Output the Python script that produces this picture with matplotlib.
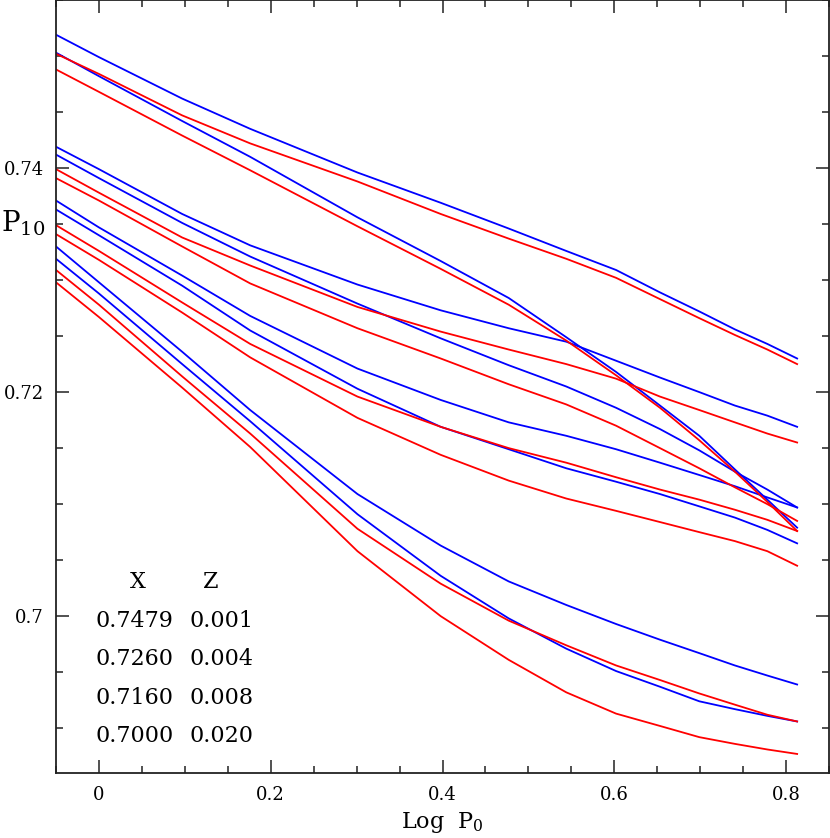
import matplotlib
matplotlib.use("Agg")
import matplotlib.pyplot as plt
from matplotlib.ticker import MultipleLocator, FuncFormatter

plt.rcParams['font.family'] = ['DejaVu Serif']
plt.rcParams['mathtext.fontset'] = 'dejavuserif'

# Log P0 sample points
log_p0 = [-0.05, 0.0, 0.0969, 0.1761, 0.3010, 0.3979, 0.4771, 0.5441,
          0.6021, 0.6532, 0.6990, 0.7404, 0.7782, 0.8129]

# P1/P0 curves (blue)
blue_a1 = [0.7519, 0.7499, 0.7462, 0.7435, 0.7396, 0.7369, 0.7346, 0.7326, 0.7309, 0.7289, 0.7272, 0.7256, 0.7243, 0.7230]
blue_a2 = [0.7503, 0.7482, 0.7442, 0.7410, 0.7356, 0.7317, 0.7284, 0.7249, 0.7218, 0.7188, 0.7161, 0.7131, 0.7104, 0.7079]
blue_b1 = [0.7419, 0.7399, 0.7359, 0.7331, 0.7296, 0.7273, 0.7257, 0.7245, 0.7228, 0.7213, 0.7200, 0.7188, 0.7179, 0.7169]
blue_b2 = [0.7412, 0.7391, 0.7351, 0.7321, 0.7279, 0.7248, 0.7224, 0.7205, 0.7186, 0.7167, 0.7148, 0.7129, 0.7113, 0.7097]
blue_c1 = [0.7371, 0.7347, 0.7304, 0.7268, 0.7221, 0.7193, 0.7173, 0.7161, 0.7149, 0.7137, 0.7126, 0.7116, 0.7106, 0.7097]
blue_c2 = [0.7363, 0.7340, 0.7295, 0.7255, 0.7203, 0.7169, 0.7149, 0.7132, 0.7120, 0.7109, 0.7098, 0.7088, 0.7077, 0.7065]
blue_d1 = [0.7330, 0.7298, 0.7236, 0.7184, 0.7109, 0.7063, 0.7031, 0.7010, 0.6993, 0.6979, 0.6967, 0.6956, 0.6947, 0.6939]
blue_d2 = [0.7319, 0.7288, 0.7225, 0.7174, 0.7091, 0.7036, 0.6998, 0.6971, 0.6951, 0.6937, 0.6924, 0.6917, 0.6911, 0.6906]

# P1/P0 curves (red)
red_a3 = [0.7502, 0.7484, 0.7447, 0.7422, 0.7388, 0.7359, 0.7337, 0.7319, 0.7302, 0.7283, 0.7266, 0.7251, 0.7238, 0.7225]
red_a4 = [0.7488, 0.7468, 0.7429, 0.7398, 0.7348, 0.7310, 0.7278, 0.7246, 0.7215, 0.7186, 0.7157, 0.7129, 0.7102, 0.7076]
red_b3 = [0.7399, 0.7378, 0.7338, 0.7313, 0.7276, 0.7254, 0.7238, 0.7225, 0.7212, 0.7196, 0.7184, 0.7173, 0.7163, 0.7155]
red_b4 = [0.7391, 0.7371, 0.7330, 0.7297, 0.7257, 0.7230, 0.7207, 0.7189, 0.7170, 0.7150, 0.7132, 0.7115, 0.7100, 0.7085]
red_c3 = [0.7349, 0.7326, 0.7280, 0.7243, 0.7196, 0.7169, 0.7150, 0.7137, 0.7124, 0.7113, 0.7104, 0.7095, 0.7086, 0.7076]
red_c4 = [0.7341, 0.7318, 0.7271, 0.7231, 0.7177, 0.7144, 0.7121, 0.7105, 0.7094, 0.7084, 0.7075, 0.7067, 0.7058, 0.7045]
red_d3 = [0.7309, 0.7278, 0.7214, 0.7163, 0.7078, 0.7029, 0.6996, 0.6974, 0.6956, 0.6943, 0.6931, 0.6921, 0.6912, 0.6906]
red_d4 = [0.7298, 0.7267, 0.7204, 0.7151, 0.7058, 0.7000, 0.6961, 0.6932, 0.6913, 0.6902, 0.6892, 0.6886, 0.6881, 0.6877]

blue_series = [blue_a1, blue_a2, blue_b1, blue_b2, blue_c1, blue_c2, blue_d1, blue_d2]
red_series = [red_a3, red_a4, red_b3, red_b4, red_c3, red_c4, red_d3, red_d4]

# composition table
comp_x = ["0.7479", "0.7260", "0.7160", "0.7000"]
comp_z = ["0.001", "0.004", "0.008", "0.020"]

W, H = 830, 838
fig = plt.figure(figsize=(W / 100, H / 100), dpi=100)
ax = fig.add_axes([56 / W, 1 - 773 / H, (829 - 56) / W, 773 / H])

for s in blue_series:
    ax.plot(log_p0, s, color='#0000ff', lw=1.3)
for s in red_series:
    ax.plot(log_p0, s, color='#ff0000', lw=1.3)

ax.set_xlim(-0.05, 0.85)
ax.set_ylim(0.686, 0.755)

ax.xaxis.set_major_locator(MultipleLocator(0.2))
ax.xaxis.set_minor_locator(MultipleLocator(0.05))
ax.yaxis.set_major_locator(MultipleLocator(0.02))
ax.yaxis.set_minor_locator(MultipleLocator(0.005))
fmt = FuncFormatter(lambda v, p: '%g' % round(v, 4))
ax.xaxis.set_major_formatter(fmt)
ax.yaxis.set_major_formatter(fmt)

ax.tick_params(which='both', direction='in', top=True, right=True, width=1.1, color='#222222')
ax.tick_params(which='major', length=9.5, labelsize=13, pad=9)
ax.tick_params(which='minor', length=4.7)
for sp in ax.spines.values():
    sp.set_linewidth(1.3)
    sp.set_color('#222222')

# axis labels
fig.text(1 / W, 1 - 231 / H, r'$\mathrm{P}_{10}$', fontsize=20, ha='left', va='baseline')
fig.text(442 / W, 1 - 828 / H, r'Log  $\mathrm{P}_0$', fontsize=16, ha='center', va='baseline')

# composition legend
fs = 16
fig.text(138 / W, 1 - 588 / H, 'X', fontsize=fs, ha='center', va='baseline')
fig.text(211 / W, 1 - 588 / H, 'Z', fontsize=fs, ha='center', va='baseline')
for i, (cx, cz) in enumerate(zip(comp_x, comp_z)):
    yb = 627.3 + i * 38.1
    fig.text(95 / W, 1 - yb / H, cx, fontsize=fs, ha='left', va='baseline')
    fig.text(189 / W, 1 - yb / H, cz, fontsize=fs, ha='left', va='baseline')

fig.savefig('out.png', dpi=100)
